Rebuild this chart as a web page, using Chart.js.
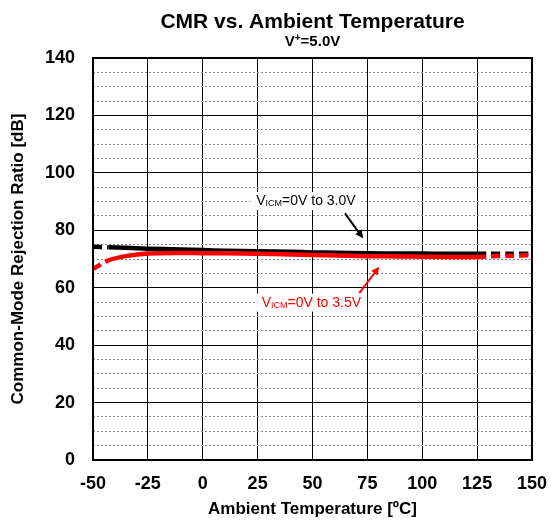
<!DOCTYPE html>
<html>
<head>
<meta charset="utf-8">
<script src="https://cdn.jsdelivr.net/npm/chart.js@4.4.1/dist/chart.umd.min.js"></script>
<style>
  body { margin: 0; background: #fff; }
  #wrap { width: 552px; height: 527px; }
</style>
</head>
<body>
<div id="wrap"><canvas id="myChart" width="552" height="527"></canvas></div>
<script>
// temperatures (ºC) and CMR values (dB)
const temps = [-50, -43, -35, -25, -10, 0, 10, 25, 40, 50, 60, 75, 90, 100, 110, 125, 130, 140, 150];
const cmr30 = [74.3, 74.1, 73.9, 73.6, 73.3, 73.1, 72.9, 72.7, 72.5, 72.3, 72.2, 72.0, 71.9, 71.9, 71.8, 71.8, 71.8, 71.8, 71.8];
const cmr35 = [66.5, 69.5, 71.0, 71.9, 72.1, 72.0, 72.0, 71.8, 71.6, 71.4, 71.2, 71.0, 70.9, 70.8, 70.7, 70.7, 70.9, 71.1, 71.3];
const xTicks = [-50, -25, 0, 25, 50, 75, 100, 125, 150];
const yTicks = [0, 20, 40, 60, 80, 100, 120, 140];

// annotation anchors in data units
const labels = [
  { sub: "ICM", rest: "=0V to 3.0V", color: "#000", x: 47.0, y: 90.2, from: [64.8, 85.9], to: [73.1, 77.2] },
  { sub: "ICM", rest: "=0V to 3.5V", color: "#ff0000", x: 49.5, y: 54.8, from: [71.3, 58.1], to: [80.4, 67.3] },
];

const FONT = "'Liberation Sans', Arial, sans-serif";

function toLine(ys) {
  let pts = [];
  for (i = 0; i < temps.length; i++) {
    pts.push({ x: temps[i], y: ys[i] });
  }
  return pts;
}

const dashSeg = {
  borderDash: (ctx) => (ctx.p1.parsed.x <= -43 || ctx.p0.parsed.x >= 125 ? [9, 5] : undefined),
};

const extras = {
  id: "extras",
  afterDraw(chart) {
    const ctx = chart.ctx;
    const a = chart.chartArea;
    const xs = chart.scales.x;
    const ys = chart.scales.y;
    ctx.save();
    // frame
    ctx.strokeStyle = "#000";
    ctx.lineWidth = 2;
    ctx.strokeRect(a.left, a.top, a.right - a.left, a.bottom - a.top);

    // titles
    const cx = (a.left + a.right) / 2;
    ctx.fillStyle = "#000";
    ctx.textAlign = "center";
    ctx.textBaseline = "alphabetic";
    ctx.font = "bold 21px " + FONT;
    ctx.fillText("CMR vs. Ambient Temperature", cx, 28);
    ctx.font = "bold 15px " + FONT;
    const w1 = ctx.measureText("V").width;
    ctx.font = "bold 10px " + FONT;
    const w2 = ctx.measureText("+").width;
    ctx.font = "bold 15px " + FONT;
    const w3 = ctx.measureText("=5.0V").width;
    let sx = cx - (w1 + w2 + w3) / 2;
    ctx.textAlign = "left";
    ctx.fillText("V", sx, 46);
    ctx.font = "bold 10px " + FONT;
    ctx.fillText("+", sx + w1, 41);
    ctx.font = "bold 15px " + FONT;
    ctx.fillText("=5.0V", sx + w1 + w2, 46);

    // annotations
    labels.forEach((l) => {
      const px = xs.getPixelForValue(l.x);
      const py = ys.getPixelForValue(l.y);
      ctx.font = "14px " + FONT;
      const a1 = ctx.measureText("V").width;
      const a3 = ctx.measureText(l.rest).width;
      ctx.font = "9px " + FONT;
      const a2 = ctx.measureText(l.sub).width;
      const tw = a1 + a2 + a3;
      ctx.fillStyle = "#fff";
      ctx.fillRect(px - tw / 2 - 6, py - 9, tw + 12, 18);
      ctx.fillStyle = l.color;
      ctx.textBaseline = "middle";
      let tx = px - tw / 2;
      ctx.font = "14px " + FONT;
      ctx.fillText("V", tx, py);
      ctx.font = "9px " + FONT;
      ctx.fillText(l.sub, tx + a1, py + 3);
      ctx.font = "14px " + FONT;
      ctx.fillText(l.rest, tx + a1 + a2, py);

      // arrow
      const x0 = xs.getPixelForValue(l.from[0]);
      const y0 = ys.getPixelForValue(l.from[1]);
      const x1 = xs.getPixelForValue(l.to[0]);
      const y1 = ys.getPixelForValue(l.to[1]);
      const ang = Math.atan2(y1 - y0, x1 - x0);
      ctx.strokeStyle = l.color;
      ctx.lineWidth = 2;
      ctx.beginPath();
      ctx.moveTo(x0, y0);
      ctx.lineTo(x1 - 5 * Math.cos(ang), y1 - 5 * Math.sin(ang));
      ctx.stroke();
      ctx.beginPath();
      ctx.moveTo(x1, y1);
      ctx.lineTo(x1 - 8 * Math.cos(ang) + 4 * Math.sin(ang), y1 - 8 * Math.sin(ang) - 4 * Math.cos(ang));
      ctx.lineTo(x1 - 8 * Math.cos(ang) - 4 * Math.sin(ang), y1 - 8 * Math.sin(ang) + 4 * Math.cos(ang));
      ctx.closePath();
      ctx.fill();
    });
    ctx.restore();
  },
};

const el = document.getElementById("myChart");

new Chart(el, {
  type: "line",
  data: {
    datasets: [
      {
        label: "VICM=0V to 3.5V",
        data: toLine(cmr35),
        borderColor: "#ff0000",
        borderWidth: 4.5,
        pointRadius: 0,
        tension: 0.3,
        segment: dashSeg,
      },
      {
        label: "VICM=0V to 3.0V",
        data: toLine(cmr30),
        borderColor: "#000",
        borderWidth: 4.5,
        pointRadius: 0,
        tension: 0.3,
        segment: dashSeg,
      },
    ],
  },
  options: {
    responsive: false,
    animation: false,
    layout: { padding: { left: 6, top: 58, right: 20, bottom: 0 } },
    plugins: {
      legend: { display: false },
      tooltip: { enabled: false },
    },
    scales: {
      x: {
        type: "linear",
        min: -50,
        max: 150,
        afterBuildTicks: (s) => { s.ticks = xTicks.map((v) => ({ value: v })); },
        afterFit: (s) => { s.height = 67; s.paddingRight = 0; s.paddingLeft = 0; },
        grid: { color: "#000", lineWidth: 1, drawTicks: false },
        border: { color: "#000", width: 2 },
        ticks: {
          color: "#000",
          padding: 13,
          font: { size: 18, weight: "bold", family: FONT },
        },
        title: {
          display: true,
          text: "Ambient Temperature [ºC]",
          color: "#000",
          padding: { top: 0, bottom: 7 },
          font: { size: 17, weight: "bold", family: FONT },
        },
      },
      yMinor: {
        type: "linear",
        position: "left",
        min: 0,
        max: 140,
        ticks: { stepSize: 5, display: false },
        afterFit: (s) => { s.width = 0; },
        grid: {
          color: (c) => (c.tick.value % 20 === 0 ? "rgba(0,0,0,0)" : "#8c8c8c"),
          lineWidth: 1,
          drawTicks: false,
        },
        border: { display: false, dash: [2, 2] },
      },
      y: {
        type: "linear",
        position: "left",
        min: 0,
        max: 140,
        afterBuildTicks: (s) => { s.ticks = yTicks.map((v) => ({ value: v })); },
        afterFit: (s) => { s.width = 87; s.paddingTop = 0; s.paddingBottom = 0; },
        grid: { color: "#000", lineWidth: 1, drawTicks: false },
        border: { color: "#000", width: 2 },
        ticks: {
          color: "#000",
          padding: 18,
          font: { size: 18, weight: "bold", family: FONT },
        },
        title: {
          display: true,
          text: "Common-Mode Rejection Ratio [dB]",
          color: "#000",
          padding: { top: 2, bottom: 0 },
          font: { size: 17, weight: "bold", family: FONT },
        },
      },
    },
  },
  plugins: [extras],
});
</script>
</body>
</html>
